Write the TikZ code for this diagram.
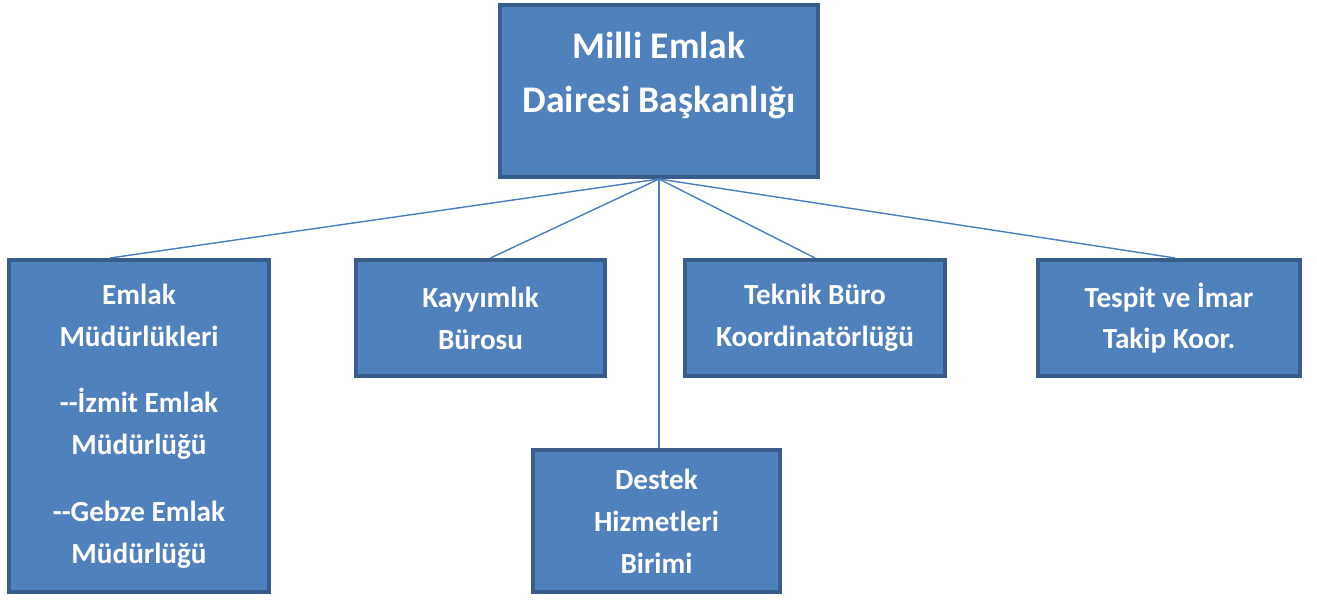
\documentclass[tikz,border=0pt]{standalone}
\usepackage{fontspec}
\setmainfont{Carlito}
\definecolor{boxfill}{HTML}{4F81BD}
\definecolor{boxline}{HTML}{385D8A}
\definecolor{linkline}{HTML}{4A7EBB}
\tikzset{
  unitbox/.style={draw=boxline, fill=boxfill, line width=2.3pt,
    text=white, font=\fontsize{16.6}{23.8}\selectfont\bfseries,
    align=center, inner sep=0pt},
  link/.style={draw=linkline, line width=0.8pt}
}
\begin{document}
\begin{tikzpicture}[x=0.02cm, y=-0.02cm]
  % Page size (pixels of the reference)
  \useasboundingbox (0,0) rectangle (1317,599);

  % Head office
  \node[unitbox, minimum width=6.36cm, minimum height=3.44cm] (dab) at (659,91) {};
  \node[text=white, font=\fontsize{21.4}{31}\selectfont\bfseries, align=center,
    inner sep=0pt] (dabtext) at (659,75.5) {Milli Emlak\\Dairesi Başkanlığı};

  % Second row of units
  \node[unitbox, minimum width=5.2cm, minimum height=6.64cm] (emlak) at (139,426)
    {Emlak\\Müdürlükleri\\[0.5cm]-{}-İzmit Emlak\\Müdürlüğü\\[0.5cm]-{}-Gebze Emlak\\Müdürlüğü};
  \node[unitbox, minimum width=4.98cm, minimum height=2.32cm] (kayyim) at (480.5,318)
    {Kayyımlık\\Bürosu};
  \node[unitbox, minimum width=5.2cm, minimum height=2.32cm] (teknik) at (815,318)
    {Teknik Büro\\Koordinatörlüğü};
  \node[unitbox, minimum width=5.24cm, minimum height=2.32cm] (tespit) at (1169,318)
    {Tespit ve İmar\\Takip Koor.};
  \node[unitbox, minimum width=4.94cm, minimum height=2.84cm] (destek) at (656.5,521)
    {Destek\\Hizmetleri\\Birimi};

  % Links from the head office
  \draw[link] (dab.south) -- ([xshift=-0.58cm]emlak.north);
  \draw[link] (dab.south) -- ([xshift=0.2cm]kayyim.north);
  \draw[link] (dab.south) -- (teknik.north);
  \draw[link] (dab.south) -- ([xshift=0.12cm]tespit.north);
  \draw[link] (dab.south) -- (dab.south |- destek.north);
\end{tikzpicture}
\end{document}
